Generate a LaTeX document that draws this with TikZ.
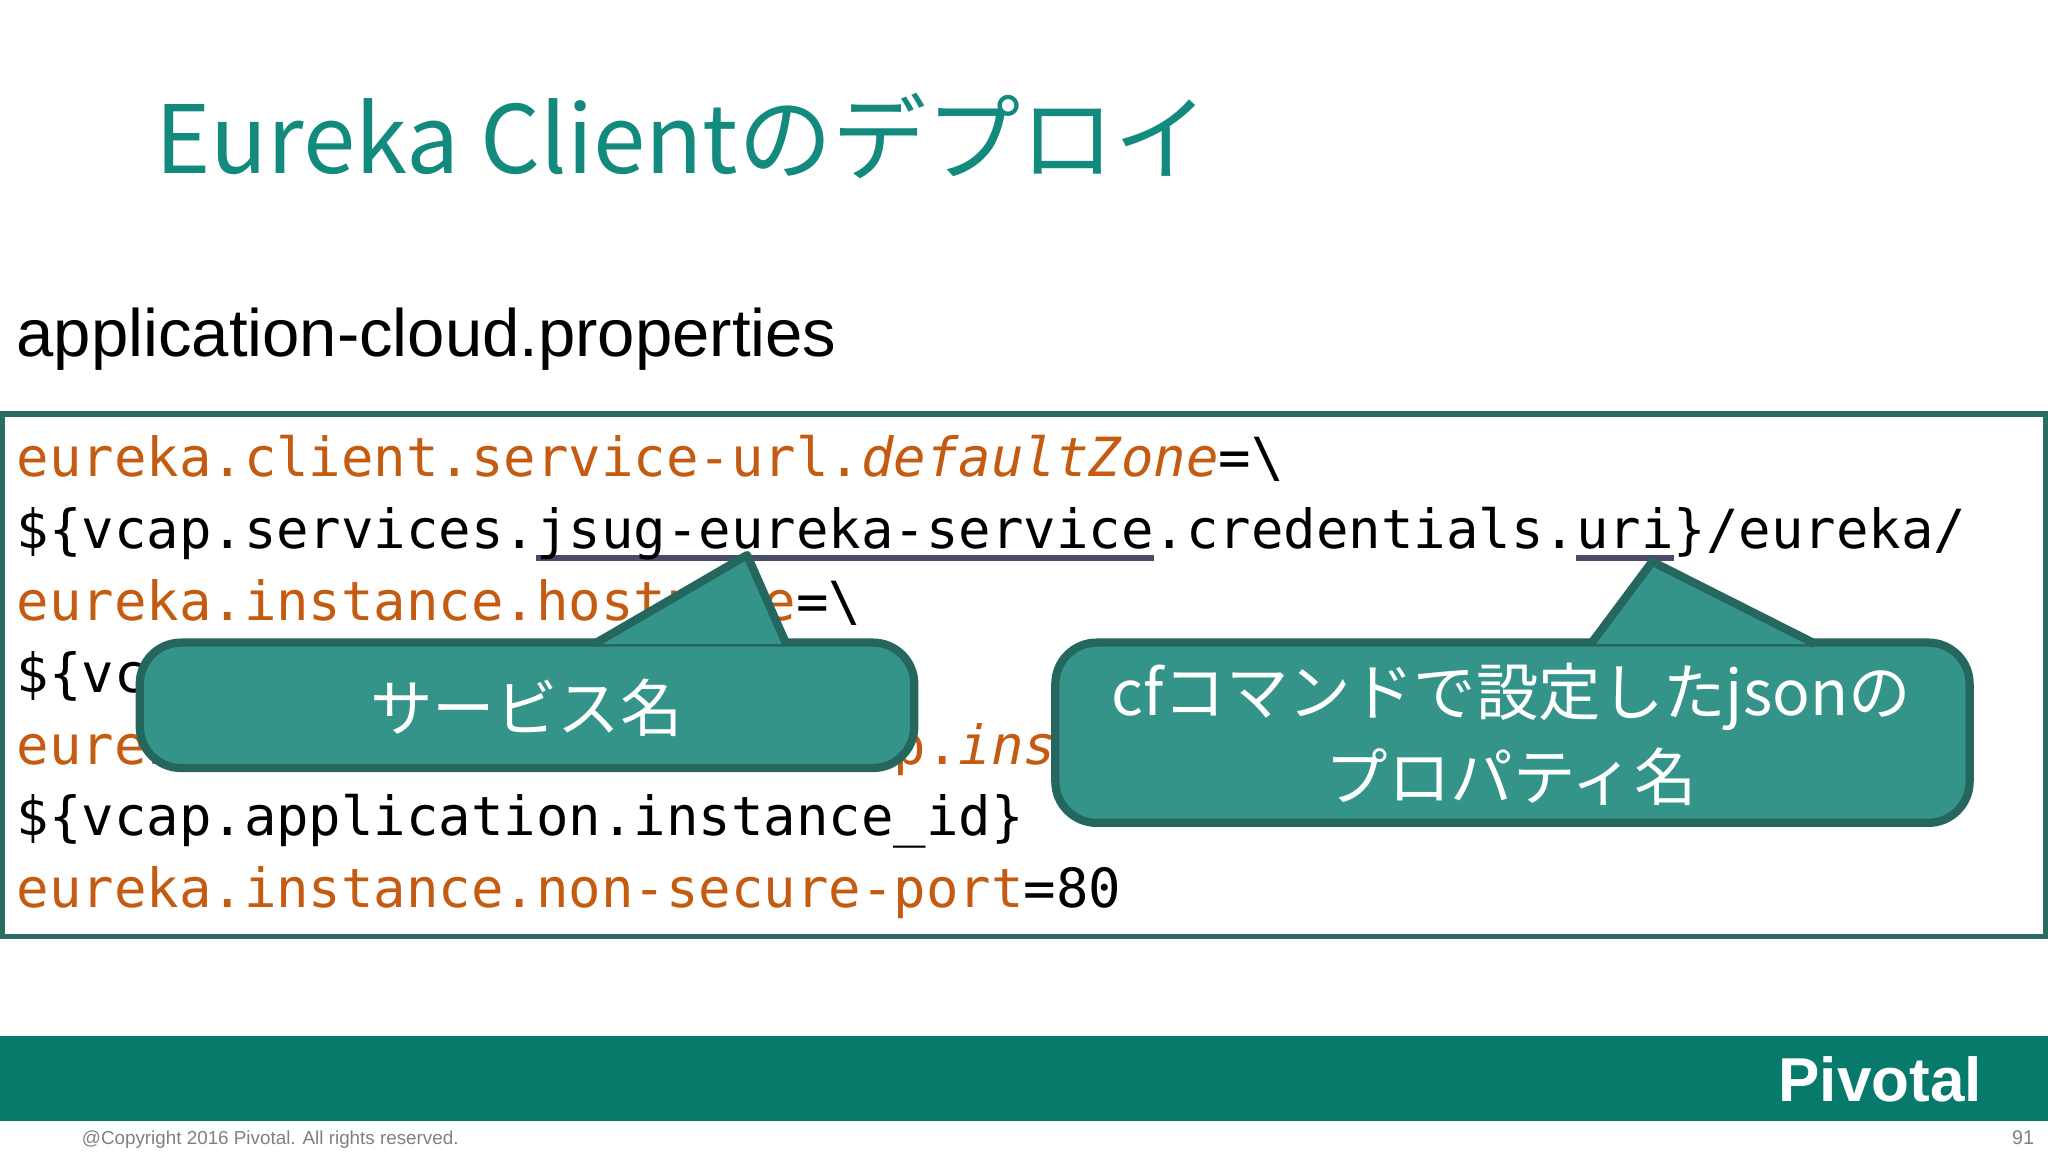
\documentclass[tikz,border=0pt]{standalone}
\usepackage{fontspec}
\setmainfont{Noto Sans CJK JP}
\newfontfamily\jp{Noto Sans CJK JP}
\newfontfamily\lsans{Liberation Sans}
\newfontfamily\mono{DejaVu Sans Mono}
\definecolor{teal1}{HTML}{138A7E}
\definecolor{bar}{HTML}{077A6C}
\definecolor{boxline}{HTML}{2B6B63}
\definecolor{callfill}{HTML}{35948A}
\definecolor{callline}{HTML}{25665E}
\definecolor{key}{HTML}{C55A11}
\definecolor{uline}{HTML}{4A4A6A}
\tikzset{
 codeln/.style={anchor=base west,inner sep=0pt,font=\mono\fontsize{11.75}{14}\selectfont},
 callbox/.style={fill=callfill,draw=callline,line width=1.8pt,rounded corners=9pt},
 calltri/.style={fill=callfill,draw=callline,line width=1.8pt,line join=round},
 calltext/.style={text=white,font=\jp\fontsize{13.6}{18.5}\selectfont,align=center},
}
\newcommand{\myul}[1]{\setbox0\hbox{#1}\rlap{\textcolor{uline}{\rule[-2.6pt]{\wd0}{1.1pt}}}\box0}
\begin{document}
\begin{tikzpicture}[x=0.01cm,y=-0.01cm]
\useasboundingbox (0,0) rectangle (1568,882);
\fill[white] (0,0) rectangle (1568,882);
\node[anchor=base west,inner sep=0pt,text=teal1,font=\jp\fontsize{20.5}{24}\selectfont] (title) at (118,133) {Eureka Clientのデプロイ};
\node[anchor=base west,inner sep=0pt,font=\lsans\fontsize{14.6}{16}\selectfont] (file) at (12,273) {application-cloud.properties};
\draw[boxline,line width=1.2pt] (2,317) rectangle (1566,717);
\node[codeln] (l1) at (12,365) {\textcolor{key}{eureka.client.service-url.\textit{defaultZone}}=\textbackslash};
\node[codeln] (l2) at (12,420) {\$\{vcap.services.\myul{jsug-eureka-service}.credentials.\myul{uri}\}/eureka/};
\node[codeln] (l3) at (12,475) {\textcolor{key}{eureka.instance.hostname}=\textbackslash};
\node[codeln] (l4) at (12,530) {\$\{vcap.application.uris[0]\}};
\node[codeln] (l5) at (12,585) {\textcolor{key}{eureka.instance.metadata-map.\textit{instanceId}}=\textbackslash};
\node[codeln] (l6) at (12,640) {\$\{vcap.application.instance\_id\}};
\node[codeln] (l7) at (12,695) {\textcolor{key}{eureka.instance.non-secure-port}=80};
% callout 1
\draw[callbox] (107,492) rectangle (700,588);
\filldraw[calltri] (455,493) -- (572,425) -- (602,493);
\node[calltext] (c1) at (403,542) {サービス名};
% callout 2
\draw[callbox] (808,492) rectangle (1508,630);
\filldraw[calltri] (1218,493) -- (1265,430) -- (1390,493);
\node[calltext] (c2) at (1157,562) {cfコマンドで設定したjsonの\\プロパティ名};
% bottom bar
\fill[bar] (0,793) rectangle (1568,858);
\node[anchor=base east,inner sep=0pt,text=white,font=\lsans\bfseries\fontsize{13.5}{16}\selectfont] (logo) at (1518,843) {Pivotal};
\node[anchor=base west,inner sep=0pt,text=gray,font=\lsans\fontsize{4.1}{5}\selectfont] (copy) at (62,876) {@Copyright 2016 Pivotal. All rights reserved.};
\node[anchor=base east,inner sep=0pt,text=gray,font=\lsans\fontsize{4.3}{5}\selectfont] (pg) at (1558,876) {91};
\end{tikzpicture}
\end{document}
